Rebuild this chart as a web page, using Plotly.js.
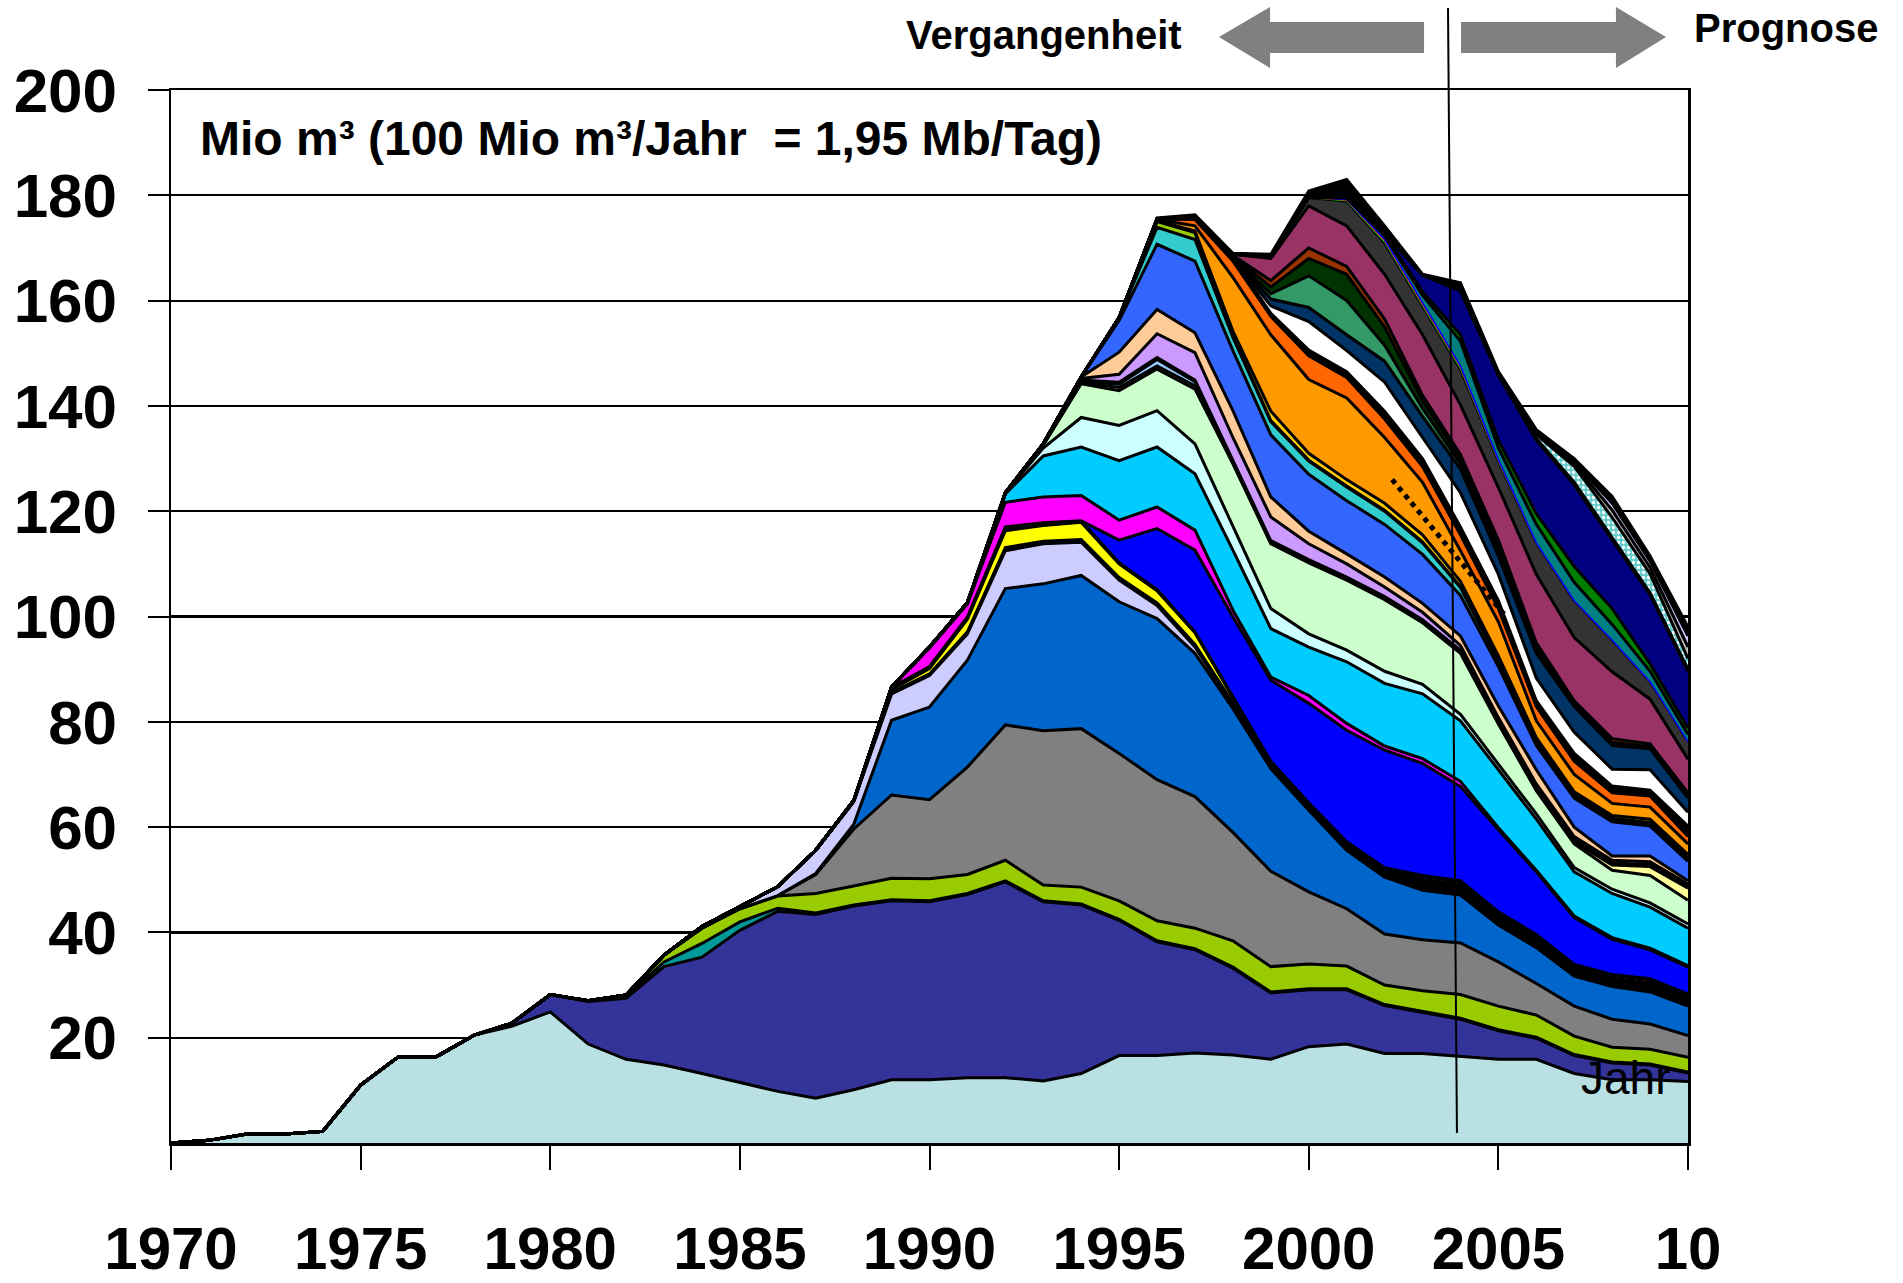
<!DOCTYPE html>
<html>
<head>
<meta charset="utf-8">
<script src="https://cdn.plot.ly/plotly-3.0.1.min.js"></script>
<style>html,body{margin:0;padding:0;background:#fff;}#chart{width:1903px;height:1283px;}</style>
</head>
<body>
<div id="chart"></div>
<script>
const years = [1970,1971,1972,1973,1974,1975,1976,1977,1978,1979,1980,1981,1982,1983,1984,1985,1986,1987,1988,1989,1990,1991,1992,1993,1994,1995,1996,1997,1998,1999,2000,2001,2002,2003,2004,2005,2006,2007,2008,2009,2010];
const xTickVals = [1970,1975,1980,1985,1990,1995,2000,2005,2010];
const xTickText = ['1970','1975','1980','1985','1990','1995','2000','2005','10'];
const yTickVals = [20,40,60,80,100,120,140,160,180,200];

// Layer values (Mio m³ per year), bottom to top
const sLight     = [0,0.5,1.7,1.7,2.2,11.0,16.4,16.4,20.5,22.2,24.9,18.8,15.9,14.8,13.2,11.5,9.8,8.5,10.1,12.0,12.0,12.4,12.4,11.8,13.2,16.6,16.6,17.1,16.7,15.9,18.3,18.8,17.0,17.0,16.5,15.9,15.9,13.2,12.0,12.0,11.7];
const sDarkBlue  = [0,0,0,0,0,0,0,0,0,0.6,3.3,8.1,11.6,18.7,22.1,28.9,34.2,34.9,34.9,34.0,33.8,34.8,37.2,34.0,32.0,25.7,21.6,19.6,16.5,12.6,10.8,10.3,9.1,7.8,7.0,5.4,4.0,3.4,3.2,2.8,1.6];
const sTeal      = [0,0,0,0,0,0,0,0,0,0,0,0.1,0.3,0.9,2.6,1.6,0.6,0.3,0.2,0.2,0.2,0.2,0.2,0.2,0.2,0.2,0.2,0.2,0.2,0.2,0.2,0.2,0.2,0.2,0.2,0.2,0.2,0.2,0.2,0.2,0.2];
const sGreen     = [0,0,0,0,0,0,0,0,0,0,0,0,0.3,1.3,2.9,2.5,2.3,3.7,3.6,4.1,4.2,3.6,3.9,3.0,3.2,3.5,3.8,3.9,5.0,4.8,4.7,4.3,3.7,3.9,4.5,4.5,4.2,3.5,2.8,2.8,2.8];
const sGray      = [0,0,0,0,0,0,0,0,0,0,0,0,0,0,0,0,0.1,3.6,10.8,15.8,15.0,20.4,25.7,29.3,30.1,28.0,26.8,25.0,20.6,18.1,13.7,10.9,9.7,9.7,9.8,8.4,6.0,5.7,5.3,4.8,4.1];
const sRoyal     = [0,0,0,0,0,0,0,0,0,0,0,0,0,0,0,0,0,0.2,0.9,14.2,17.6,20.3,25.9,27.9,29.1,28.8,30.6,27.2,23.5,19.5,15.5,11.1,10.8,9.4,9.1,7.0,6.8,5.7,6.2,6.1,5.6];
const sLavender  = [0,0,0,0,0,0,0,0,0,0,0,0,0,0,0.3,0.4,1.7,4.4,4.3,5.0,6.0,5.0,7.2,7.6,6.3,4.1,2.5,1.2,0.6,0.3,0.3,0.3,0.3,0.3,0.3,0.3,0.3,0.3,0.3,0.3,0.3];
const sBlack1    = [0,0,0,0,0,0,0,0,0,0,0,0,0,0,0,0,0,0,0,0.3,0.3,0.4,0.6,0.5,0.5,0.5,0.5,0.5,0.5,0.5,0.6,0.8,1.0,1.8,1.7,1.5,1.5,1.2,1.3,1.5,1.3];
const sYellow    = [0,0,0,0,0,0,0,0,0,0,0,0,0,0,0,0,0,0,0,0.5,1.0,2.4,3.2,3.0,3.3,2.6,2.3,2.2,1.0,0.4,0.3,0.3,0.3,0.5,0.5,0.5,0.5,0.5,0.5,0.5,0.5];
const sRed       = [0,0,0,0,0,0,0,0,0,0,0,0,0,0,0,0,0,0,0.2,0.4,0.4,0.3,0.3,0.1,0.1,0.1,0.1,0.1,0.1,0.1,0.1,0.1,0.1,0.1,0.1,0.1,0.1,0.1,0.1,0.1,0.1];
const sLime      = [0,0,0,0,0,0,0,0,0,0,0,0,0,0,0,0,0,0,0,0,0,0.1,0.4,0.4,0.2,0.1,0.1,0.1,0.1,0.1,0.1,0.1,0.1,0.1,0.1,0.1,0.1,0.1,0.1,0.1,0.1];
const sBlue      = [0,0,0,0,0,0,0,0,0,0,0,0,0,0,0,0,0,0,0,0,0,0,0,0,0,4.3,11.6,15.5,15.1,15.4,18.9,21.2,22.3,21.3,17.9,15.6,11.9,8.9,6.7,5.5,5.1];
const sMagenta   = [0,0,0,0,0,0,0,0,0,0,0,0,0,0,0,0,0,0,0,0.1,3.5,2.5,4.7,4.9,4.8,3.8,4.1,3.8,1.3,0.6,1.5,1.3,0.8,0.9,1.0,0.4,0.3,0.3,0.3,0.3,0.3];
const sCyan      = [0,0,0,0,0,0,0,0,0,0,0,0,0,0,0,0,0,0,0,0,0.2,0.2,1.6,7.8,9.2,11.3,11.4,10.7,11.4,9.2,9.2,11.7,11.9,12.3,11.5,11.0,9.7,8.4,8.4,7.8,7.1];
const sLtCyan    = [0,0,0,0,0,0,0,0,0,0,0,0,0,0,0,0,0,0,0,0,0,0,0.2,1.5,5.6,6.7,6.9,5.7,4.4,3.8,2.5,2.2,2.3,1.8,1.2,1.0,1.0,0.8,0.8,0.8,0.8];
const sPaleGreen = [0,0,0,0,0,0,0,0,0,0,0,0,0,0,0,0,0,0,0,0,0,0,0,0.5,6.4,6.6,7.9,10.4,12.0,12.3,13.5,13.3,13.6,11.7,11.6,7.7,4.4,4.5,3.6,5.2,4.5];
const sLtYellow  = [0,0,0,0,0,0,0,0,0,0,0,0,0,0,0,0,0,0,0,0,0,0,0,0.1,0.2,0.6,0.6,0.6,0.3,0.2,0.2,0.2,0.2,0.2,0.2,0.2,0.2,0.4,1.0,1.7,2.3];
const sLtBlue    = [0,0,0,0,0,0,0,0,0,0,0,0,0,0,0,0,0,0,0,0,0,0,0,0.1,0.3,0.6,1.2,0.8,0.3,0.2,0.2,0.2,0.2,0.2,0.2,0.2,0.2,0.2,0.2,0.2,0.2];
const sPink      = [0,0,0,0,0,0,0,0,0,0,0,0,0,0,0,0,0,0,0,0,0,0,0,0,0.2,0.4,0.4,0.3,0.2,0.2,0.2,0.2,0.2,0.2,0.2,0.2,0.2,0.2,0.2,0.2,0.2];
const sLilac     = [0,0,0,0,0,0,0,0,0,0,0,0,0,0,0,0,0,0,0,0,0,0,0,0.1,0.3,1.5,4.5,5.2,4.2,4.5,3.0,2.5,1.8,1.4,0.9,0.6,0.7,0.6,0.5,0.5,0.4];
const sPeach     = [0,0,0,0,0,0,0,0,0,0,0,0,0,0,0,0,0,0,0,0,0,0,0,0,0.3,4.2,4.6,3.8,5.1,3.8,2.4,1.9,1.9,1.7,1.8,2.2,2.7,1.8,0.8,1.1,0.6];
const sMidBlue   = [0,0,0,0,0,0,0,0,0,0,0,0,0,0,0,0,0,0,0,0,0,0,0,0,0,6.0,12.4,13.6,11.4,11.8,10.8,10.1,10.0,9.3,7.7,7.5,4.6,5.5,6.5,5.7,3.7];
const sTurq      = [0,0,0,0,0,0,0,0,0,0,0,0,0,0,0,0,0,0,0,0,0,0,0,0,0,0.6,3.2,4.1,2.5,2.5,2.5,2.6,2.5,2.2,1.5,1.0,0.7,0.5,0.5,0.5,0.5];
const sOlive     = [0,0,0,0,0,0,0,0,0,0,0,0,0,0,0,0,0,0,0,0,0,0,0,0,0,0,1.1,1.3,0.3,0.2,0.2,0.2,0.2,0.2,0.2,0.2,0.2,0.2,0.2,0.2,0.2];
const sGold      = [0,0,0,0,0,0,0,0,0,0,0,0,0,0,0,0,0,0,0,0,0,0,0,0,0,0,0.2,0.3,0.9,1.8,1.3,1.2,1.3,1.3,1.0,0.8,0.6,0.5,0.5,0.6,0.6];
const sOrange    = [0,0,0,0,0,0,0,0,0,0,0,0,0,0,0,0,0,0,0,0,0,0,0,0,0,0,0.2,1.0,10.2,14.5,14.0,15.5,12.5,10.0,5.8,6.5,3.2,3.3,2.3,2.3,2.0];
const sDkOrange  = [0,0,0,0,0,0,0,0,0,0,0,0,0,0,0,0,0,0,0,0,0,0,0,0,0,0,0.1,1.2,3.1,3.5,4.5,3.9,3.5,3.0,3.0,2.5,2.7,2.5,2.0,2.1,1.4];
const sGrayLine  = [0,0,0,0,0,0,0,0,0,0,0,0,0,0,0,0,0,0,0,0,0,0,0,0,0,0,0,0.1,0.2,0.3,0.5,0.4,0.5,0.5,0.5,0.5,0.3,0.3,0.3,0.3,0.3];
const sBlack2    = [0,0,0,0,0,0,0,0,0,0,0,0,0,0,0,0,0,0,0,0,0,0,0,0,0,0,0,0.3,0.3,0.3,0.6,0.7,1.0,1.0,1.0,1.0,0.8,1.2,1.0,0.8,1.7];
const sWhite     = [0,0,0,0,0,0,0,0,0,0,0,0,0,0,0,0,0,0,0,0,0,0,0,0,0,0,0,0,0,1.4,5.4,4.0,5.5,4.0,6.5,5.0,4.3,4.0,3.2,3.9,2.6];
const sNavy1     = [0,0,0,0,0,0,0,0,0,0,0,0,0,0,0,0,0,0,0,0,0,0,0,0,0,0,0,0,0.2,1.3,2.7,3.0,4.0,4.0,4.5,3.5,4.7,4.9,4.5,4.0,2.7];
const sSeaGreen  = [0,0,0,0,0,0,0,0,0,0,0,0,0,0,0,0,0,0,0,0,0,0,0,0,0,0,0,0,0.1,1.0,6.0,6.5,3.0,1.5,1.0,1.0,0.6,0.3,0.3,0.2,0.2];
const sDkGreen   = [0,0,0,0,0,0,0,0,0,0,0,0,0,0,0,0,0,0,0,0,0,0,0,0,0,0,0,0,0.2,1.3,3.3,5.0,3.5,1.5,1.0,1.0,0.6,0.3,0.3,0.2,0.2];
const sBrown     = [0,0,0,0,0,0,0,0,0,0,0,0,0,0,0,0,0,0,0,0,0,0,0,0,0,0,0,0,0.1,1.2,2.0,1.5,1.5,1.0,0.8,1.0,0.8,0.5,0.7,0.5,0.6];
const sPlum      = [0,0,0,0,0,0,0,0,0,0,0,0,0,0,0,0,0,0,0,0,0,0,0,0,0,0,0,0,0.2,4.2,8.0,7.7,8.5,11.5,9.4,10.0,13.0,12.0,12.7,8.5,6.4];
const sDkGray    = [0,0,0,0,0,0,0,0,0,0,0,0,0,0,0,0,0,0,0,0,0,0,0,0,0,0,0,0,0,0.5,1.6,4.7,6.0,5.5,6.8,5.0,6.0,7.0,6.0,3.3,3.3];
const sLimeLine  = [0,0,0,0,0,0,0,0,0,0,0,0,0,0,0,0,0,0,0,0,0,0,0,0,0,0,0,0,0,0,0,0.1,0.2,0.2,0.2,0.1,0,0,0,0,0];
const sRedLine   = [0,0,0,0,0,0,0,0,0,0,0,0,0,0,0,0,0,0,0,0,0,0,0,0,0,0,0,0,0,0,0,0.1,0.2,0.2,0.2,0.1,0,0,0,0,0];
const sBlueLine  = [0,0,0,0,0,0,0,0,0,0,0,0,0,0,0,0,0,0,0,0,0,0,0,0,0,0,0,0,0,0,0,0.1,0.2,0.2,0.2,0.1,0,0,0,0,0];
const sTeal2     = [0,0,0,0,0,0,0,0,0,0,0,0,0,0,0,0,0,0,0,0,0,0,0,0,0,0,0,0,0,0,0,0.3,0.7,1.4,4.7,2.2,3.5,3.5,3.0,2.0,1.4];
const sGreen2    = [0,0,0,0,0,0,0,0,0,0,0,0,0,0,0,0,0,0,0,0,0,0,0,0,0,0,0,0,0,0,0,0.1,0.3,0.7,1.2,1.5,2.0,3.0,3.0,1.4,1.2];
const sNavy2     = [0,0,0,0,0,0,0,0,0,0,0,0,0,0,0,0,0,0,0,0,0,0,0,0,0,0,0,0,0,0,0,0,0.2,3.1,8.3,12.3,14.0,15.5,13.0,13.1,10.8];
const sPurple    = [0,0,0,0,0,0,0,0,0,0,0,0,0,0,0,0,0,0,0,0,0,0,0,0,0,0,0,0,0,0,0,0,0,0.1,0.2,0.2,0.3,0.5,0.5,0.4,0.4];
const sHatched   = [0,0,0,0,0,0,0,0,0,0,0,0,0,0,0,0,0,0,0,0,0,0,0,0,0,0,0,0,0,0,0,0,0,0,0,0,0.7,3.0,3.8,3.6,2.0];
const sSilver    = [0,0,0,0,0,0,0,0,0,0,0,0,0,0,0,0,0,0,0,0,0,0,0,0,0,0,0,0,0,0,0,0,0,0,0,0,0.2,0.4,1.4,1.2,2.2];
const sLavender2 = [0,0,0,0,0,0,0,0,0,0,0,0,0,0,0,0,0,0,0,0,0,0,0,0,0,0,0,0,0,0,0,0,0,0,0,0,0.1,0.4,1.3,1.2,2.1];
const sCap       = [0,0,0,0,0,0,0,0,0,0,0,0,0,0,0,0,0,0,0,0,0,0,0,0,0,0,0.2,0.5,0.2,0.3,1.2,3.4,1.4,0.1,1.4,0.5,0.7,0.7,1.3,1.0,1.7];

const layers = [
  {v: sLight, c: '#B9E0E3'},
  {v: sDarkBlue, c: '#333399'},
  {v: sTeal, c: '#009999'},
  {v: sGreen, c: '#99CC00'},
  {v: sGray, c: '#808080'},
  {v: sRoyal, c: '#0066CC'},
  {v: sLavender, c: '#CCCCFF'},
  {v: sBlack1, c: '#000000'},
  {v: sYellow, c: '#FFFF00'},
  {v: sRed, c: '#FF0000'},
  {v: sLime, c: '#00FF00'},
  {v: sBlue, c: '#0000FF'},
  {v: sMagenta, c: '#FF00FF'},
  {v: sCyan, c: '#00CCFF'},
  {v: sLtCyan, c: '#CCFFFF'},
  {v: sPaleGreen, c: '#CCFFCC'},
  {v: sLtYellow, c: '#FFFF99'},
  {v: sLtBlue, c: '#99CCFF'},
  {v: sPink, c: '#FF99CC'},
  {v: sLilac, c: '#CC99FF'},
  {v: sPeach, c: '#FFCC99'},
  {v: sMidBlue, c: '#3366FF'},
  {v: sTurq, c: '#33CCCC'},
  {v: sOlive, c: '#99CC00'},
  {v: sGold, c: '#FFCC00'},
  {v: sOrange, c: '#FF9900'},
  {v: sDkOrange, c: '#FF6600'},
  {v: sGrayLine, c: '#969696'},
  {v: sBlack2, c: '#000000'},
  {v: sWhite, c: '#FFFFFF'},
  {v: sNavy1, c: '#003366'},
  {v: sSeaGreen, c: '#339966'},
  {v: sDkGreen, c: '#003300'},
  {v: sBrown, c: '#993300'},
  {v: sPlum, c: '#993366'},
  {v: sDkGray, c: '#333333'},
  {v: sLimeLine, c: '#00FF00', lc: '#00FF00', lw: 1.5},
  {v: sRedLine, c: '#FF0000', lc: '#FF0000', lw: 1.5},
  {v: sBlueLine, c: '#0000FF', lc: '#0000FF', lw: 1.5},
  {v: sTeal2, c: '#008080'},
  {v: sGreen2, c: '#008000'},
  {v: sNavy2, c: '#000080'},
  {v: sPurple, c: '#800080'},
  {v: sHatched, c: '#66CCCC', pattern: true},
  {v: sSilver, c: '#C0C0C0'},
  {v: sLavender2, c: '#CCCCFF'},
  {v: sCap, c: '#000000'}
];

const traces = layers.map((L, i) => {
  const t = {
    x: years, y: L.v, type: 'scatter', mode: 'lines',
    stackgroup: 'one', fillcolor: L.c,
    line: {color: L.lc || '#000000', width: L.lw || 3, shape: 'linear'},
    hoverinfo: 'skip', showlegend: false
  };
  if (L.pattern) {
    t.fillpattern = {shape: '.', bgcolor: '#66CCCC', fgcolor: '#FFFFFF', size: 5, solidity: 0.35};
  }
  return t;
});

const FONT = 'Liberation Sans, Arial, Helvetica, sans-serif';

const layout = {
  width: 1903, height: 1283,
  margin: {l: 171, r: 215, t: 90, b: 140, pad: 0},
  paper_bgcolor: '#FFFFFF', plot_bgcolor: '#FFFFFF',
  showlegend: false,
  font: {family: FONT, color: '#000000'},
  xaxis: {
    range: [1970, 2010], tickmode: 'array', tickvals: xTickVals, ticktext: xTickText,
    ticks: 'outside', ticklen: 24, tickwidth: 2, tickcolor: '#000000',
    showgrid: false, zeroline: false, showline: true, linecolor: '#000000', linewidth: 2.5, mirror: true,
    tickfont: {family: FONT, size: 60, weight: 'bold', color: '#000000'},
    ticklabelstandoff: 27, fixedrange: true
  },
  yaxis: {
    range: [0, 200], tickmode: 'array', tickvals: yTickVals,
    ticks: 'outside', ticklen: 21, tickwidth: 2, tickcolor: '#000000',
    showgrid: true, gridcolor: '#000000', gridwidth: 2.2,
    zeroline: false, showline: true, linecolor: '#000000', linewidth: 2.5, mirror: true,
    tickfont: {family: FONT, size: 62, weight: 'bold', color: '#000000'},
    ticklabelstandoff: 18, fixedrange: true
  },
  annotations: [
    {xref: 'paper', yref: 'paper', x: 0.0178, y: 0.9544, xanchor: 'left', yanchor: 'middle',
     text: 'Mio m³ (100 Mio m³/Jahr&nbsp; = 1,95 Mb/Tag)', showarrow: false,
     font: {family: FONT, size: 48, weight: 'bold', color: '#000000'}},
    {xref: 'paper', yref: 'paper', x: 0.5755, y: 1.0522, xanchor: 'center', yanchor: 'middle',
     text: 'Vergangenheit', showarrow: false,
     font: {family: FONT, size: 40, weight: 'bold', color: '#000000'}},
    {xref: 'paper', yref: 'paper', x: 1.0646, y: 1.0589, xanchor: 'center', yanchor: 'middle',
     text: 'Prognose', showarrow: false,
     font: {family: FONT, size: 40, weight: 'bold', color: '#000000'}},
    {xref: 'paper', yref: 'paper', x: 0.9591, y: 0.0617, xanchor: 'center', yanchor: 'middle',
     text: 'Jahr', showarrow: false,
     font: {family: FONT, size: 46, color: '#000000'}}
  ],
  shapes: [
    {type: 'path', xref: 'paper', yref: 'paper', layer: 'above',
     path: 'M 0.6908 1.0503 L 0.7245 1.0788 L 0.7245 1.0646 L 0.8260 1.0646 L 0.8260 1.0351 L 0.7245 1.0351 L 0.7245 1.0209 Z',
     fillcolor: '#808080', line: {width: 0}},
    {type: 'path', xref: 'paper', yref: 'paper', layer: 'above',
     path: 'M 0.8504 1.0646 L 0.9525 1.0646 L 0.9525 1.0788 L 0.9855 1.0503 L 0.9525 1.0209 L 0.9525 1.0351 L 0.8504 1.0351 Z',
     fillcolor: '#808080', line: {width: 0}},
    {type: 'line', xref: 'paper', yref: 'paper', layer: 'above',
     x0: 0.8418, y0: 1.0779, x1: 0.8477, y1: 0.0095, line: {color: '#000000', width: 2}},
    {type: 'line', xref: 'x', yref: 'y', layer: 'above',
     x0: 2002.2, y0: 126, x1: 2005.2, y1: 100, line: {color: '#000000', width: 5, dash: 'dot'}}
  ]
};

Plotly.newPlot('chart', traces, layout, {staticPlot: true, displayModeBar: false});
</script>
</body>
</html>
